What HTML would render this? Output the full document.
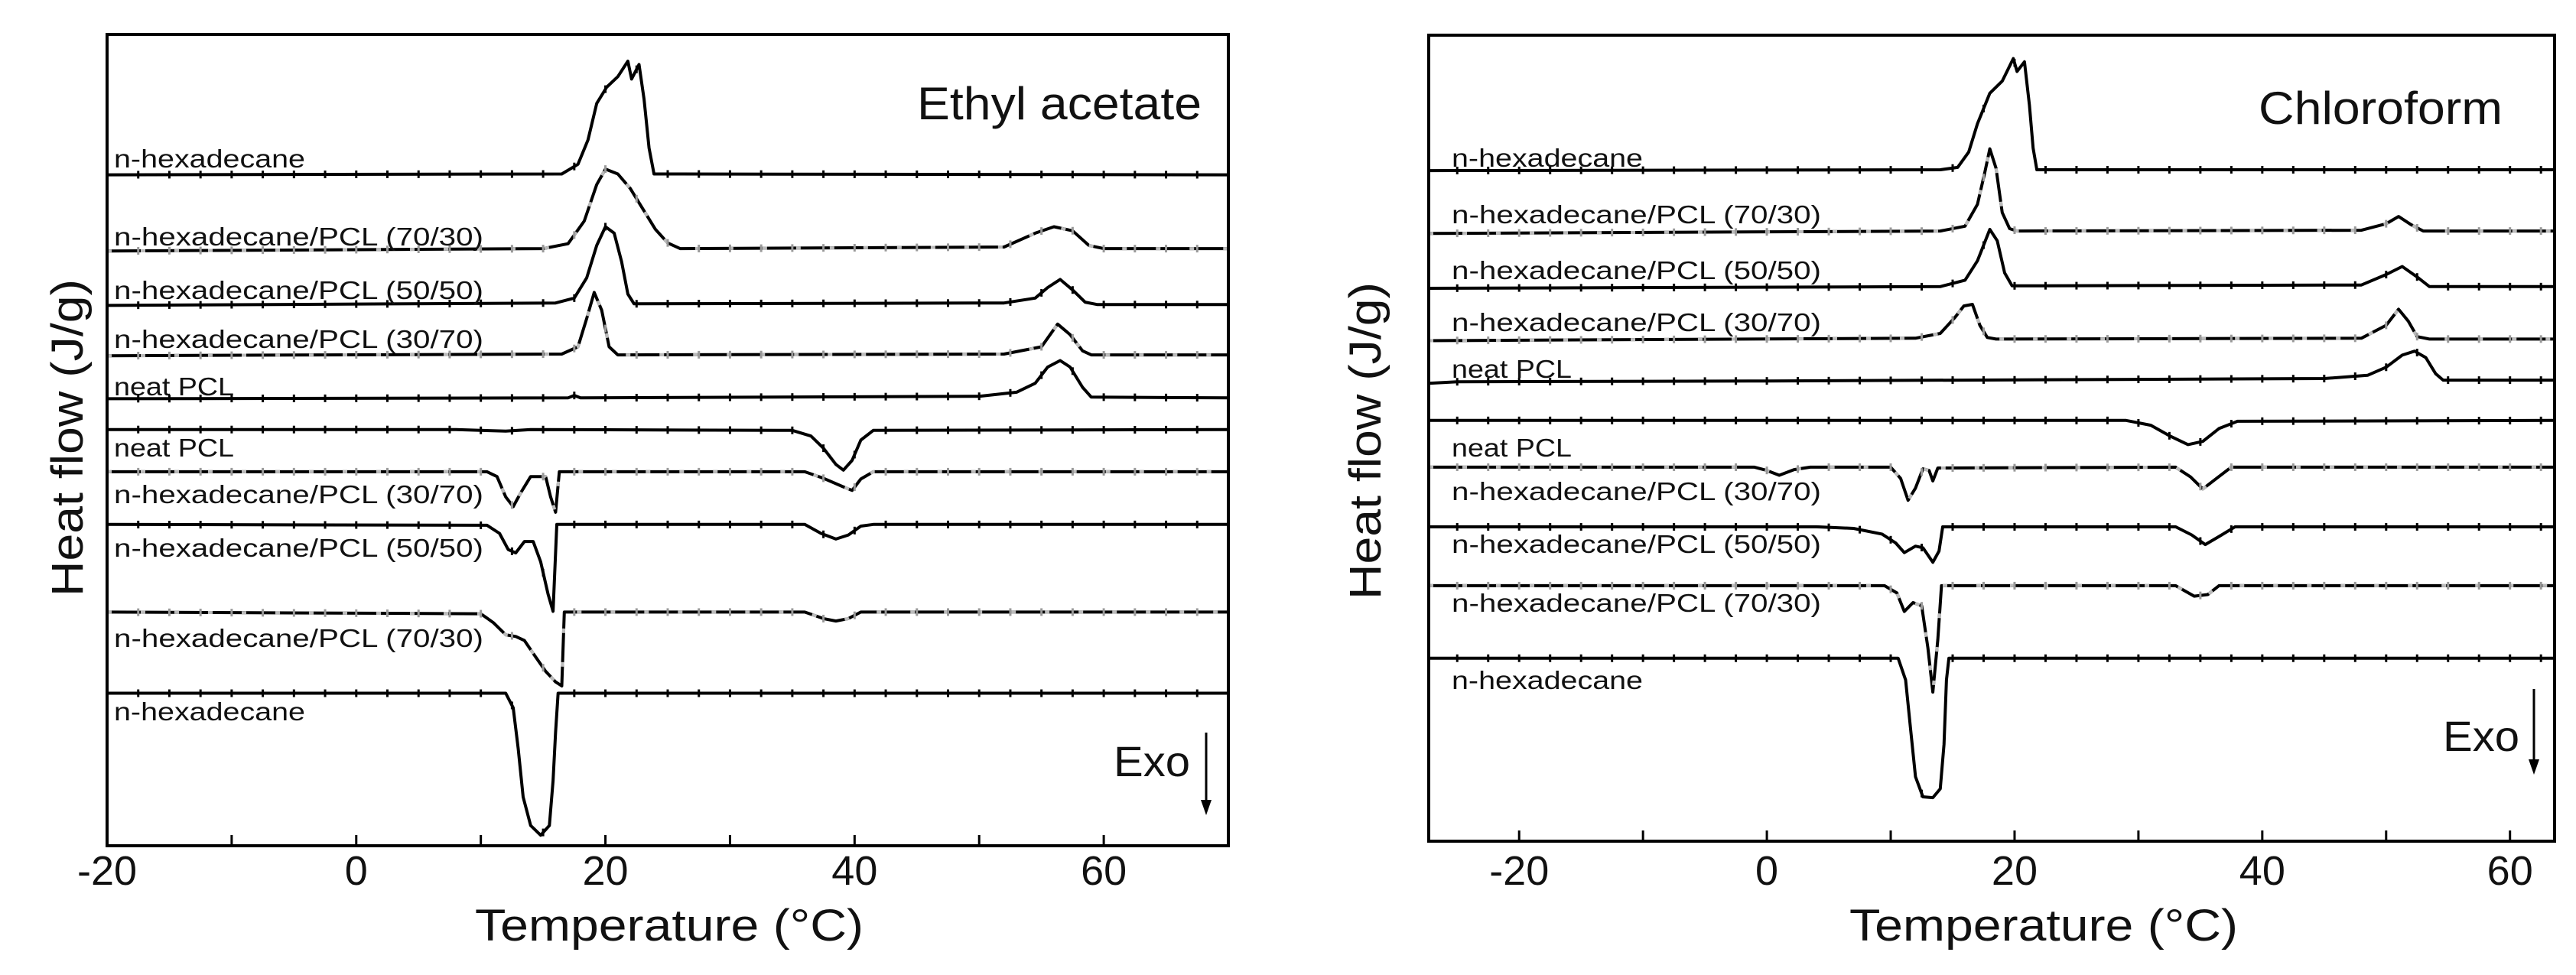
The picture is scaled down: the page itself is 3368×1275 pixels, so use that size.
<!DOCTYPE html>
<html><head><meta charset="utf-8"><style>
html,body{margin:0;padding:0;background:#fff}
svg{display:block}
text{font-family:"Liberation Sans","DejaVu Sans",sans-serif;fill:#111}
</style></head><body>
<svg id="fig" width="3368" height="1275" viewBox="0 0 3368 1275" xmlns="http://www.w3.org/2000/svg">
<g id="left"></g>
<g id="right"></g>
</svg>
<script>
const NS="http://www.w3.org/2000/svg";
// ---------- data: tick labels ----------
const tickValuesL=[-20,-10,0,10,20,30,40,50,60];
const tickLabelsL=["-20","0","20","40","60"];
const tickValuesR=[-20,-10,0,10,20,30,40,50,60];
const tickLabelsR=["-20","0","20","40","60"];
// ---------- Ethyl acetate curves [T, heat-flow offset units] ----------
const curveNamesL=["n-hexadecane","n-hexadecane/PCL (70/30)","n-hexadecane/PCL (50/50)","n-hexadecane/PCL (30/70)","neat PCL","neat PCL","n-hexadecane/PCL (30/70)","n-hexadecane/PCL (50/50)","n-hexadecane/PCL (70/30)","n-hexadecane"];
const dashedL=[false,true,false,true,false,false,true,false,true,false];
const L1=[[-20,82.7],[16.5,82.8],[17.8,84],[18.6,87],[19.3,91.5],[20.1,93.5],[21,94.8],[21.8,96.7],[22.1,94.5],[22.7,96.3],[23.1,92],[23.5,86],[23.9,82.8],[70,82.7]];
const L2=[[-20,73.3],[15,73.6],[17,74.2],[18.3,77],[19.3,81.5],[20,83.4],[21,82.8],[22,81],[23,78.5],[24,76],[25,74.3],[26,73.6],[52,73.8],[54.5,75.5],[56,76.3],[57.5,75.8],[58.8,74],[60,73.6],[70,73.6]];
const L3=[[-20,66.6],[16,66.9],[17.5,67.5],[18.5,70],[19.3,74],[20,76.3],[20.7,75.5],[21.3,72],[21.8,68],[22.3,66.8],[52,66.9],[54.5,67.5],[55.5,68.8],[56.5,69.8],[57.5,68.5],[58.5,67],[59.5,66.7],[70,66.7]];
const L4=[[-20,60.4],[16.5,60.6],[17.8,61.5],[18.5,65],[19.1,68.2],[19.7,66],[20.3,61.5],[21,60.5],[52,60.6],[55,61.5],[56.3,64.3],[57.3,63],[58.3,61],[59,60.5],[70,60.5]];
const L5=[[-20,55.1],[17,55.2],[17.5,55.5],[18,55.2],[50,55.4],[53,55.9],[54.5,57],[55.5,59],[56.5,59.8],[57.3,59],[58.3,56.5],[59,55.3],[70,55.2]];
const L6=[[-20,51.3],[8,51.3],[12,51.1],[14,51.3],[35,51.2],[36.5,50.5],[37.5,49],[38.5,47],[39.1,46.3],[39.8,47.5],[40.5,50],[41.5,51.2],[70,51.3]];
const L7=[[-20,46.1],[10.5,46.1],[11.3,45.5],[12,43],[12.6,41.8],[13.2,43.5],[14,45.5],[15.2,45.5],[15.6,43],[16,41.1],[16.3,46.1],[36,46.1],[37.5,45.3],[39,44.3],[39.8,43.8],[40.5,45.2],[41.5,46.1],[70,46.1]];
const L8=[[-20,39.6],[10.5,39.5],[11.5,38.5],[12.2,36.5],[12.8,36.1],[13.5,37.5],[14.2,37.5],[14.8,35],[15.4,31],[15.8,28.9],[16.1,39.6],[36,39.6],[37.3,38.5],[38.5,37.8],[39.5,38.3],[40.5,39.4],[41.5,39.6],[70,39.6]];
const L9=[[-20,28.8],[10,28.6],[11,27.5],[12,26],[12.8,25.8],[13.5,25.3],[14.3,23.5],[15.2,21.5],[16,20.2],[16.5,19.7],[16.7,28.8],[36,28.8],[37.5,28],[38.5,27.7],[39.5,28],[40.5,28.8],[70,28.8]];
const L10=[[-20,18.8],[12,18.8],[12.6,17],[13,12],[13.4,6],[14,2.5],[14.8,1.3],[15.5,2.5],[15.8,8],[16,14],[16.2,18.8],[70,18.8]];
// ---------- Chloroform curves ----------
const curveNamesR=curveNamesL;
const dashedR=[false,true,false,true,false,false,true,false,true,false];
const R1=[[-27.3,83.2],[14,83.3],[15.4,83.6],[16.3,85.5],[17,89],[18,92.8],[19,94.3],[19.9,97.1],[20.2,95.5],[20.8,96.7],[21.2,91.3],[21.5,86],[21.8,83.3],[63.6,83.3]];
const R2=[[-27.3,75.4],[14,75.7],[16,76.3],[17,79],[17.6,83],[18,85.9],[18.5,83.5],[19,78],[19.6,76],[20.2,75.7],[48,75.8],[50,76.6],[51,77.5],[52,76.5],[53,75.7],[63.6,75.7]];
const R3=[[-27.3,68.6],[14,68.8],[16,69.6],[17,72],[18,75.9],[18.6,74.5],[19.2,70.5],[19.8,68.9],[48,69],[50,70.3],[51.3,71.3],[52.5,70],[53.5,68.8],[63.6,68.8]];
const R4=[[-27.3,62.1],[12,62.4],[14,63],[15.2,65],[15.9,66.4],[16.6,66.6],[17.2,64],[17.8,62.5],[18.5,62.3],[48,62.4],[50,64],[51,66],[51.8,64.5],[52.5,62.6],[53.5,62.3],[63.6,62.3]];
const R5=[[-27.3,56.8],[-25,57],[0,57.1],[45,57.4],[48.5,57.8],[50,58.8],[51.3,60.3],[52.3,60.8],[53.2,60],[54,58],[54.6,57.2],[63.6,57.2]];
const R6=[[-27.3,52.2],[29,52.2],[31,51.6],[32.5,50.3],[34,49.2],[35.2,49.6],[36.5,51.2],[38,52.1],[63.6,52.2]];
const R7=[[-27.3,46.4],[-1,46.4],[0,46],[1,45.4],[2.2,46.1],[3.5,46.4],[10,46.4],[10.8,45],[11.4,42.3],[12,43.8],[12.6,46.2],[13.1,46],[13.4,44.7],[13.8,46.3],[33,46.4],[34.2,45.2],[35.2,43.7],[36.3,45],[37.5,46.4],[63.6,46.4]];
const R8=[[-27.3,39],[4,39],[7,38.8],[9.3,38.1],[10.4,37],[11.1,35.8],[12,36.6],[12.6,36.4],[13.4,34.6],[13.9,36],[14.2,39],[33,39],[34.3,38],[35.4,36.8],[36.5,37.8],[37.8,39],[63.6,39]];
const R9=[[-27.3,31.7],[9.5,31.7],[10.5,30.8],[11.1,28.5],[11.8,29.6],[12.5,29.2],[13,24],[13.4,18.5],[13.8,25],[14.1,31.7],[33,31.7],[34.5,30.4],[35.6,30.6],[36.5,31.7],[63.6,31.7]];
const R10=[[-27.3,22.7],[10.6,22.7],[11.2,20],[11.6,14],[12,8],[12.6,5.5],[13.4,5.4],[14,6.5],[14.3,12],[14.5,20],[14.7,22.7],[63.6,22.7]];

const seriesL=[L1,L2,L3,L4,L5,L6,L7,L8,L9,L10];
const seriesR=[R1,R2,R3,R4,R5,R6,R7,R8,R9,R10];

function mk(parent,tag,attrs){const e=document.createElementNS(NS,tag);for(const k in attrs)e.setAttribute(k,attrs[k]);parent.appendChild(e);return e;}

function drawPanel(g,cfg){
  const xs=t=>cfg.x0+(t-cfg.dom[0])/(cfg.dom[1]-cfg.dom[0])*(cfg.x1-cfg.x0);
  const ys=v=>cfg.y1-v/100*(cfg.y1-cfg.y0);
  cfg.series.forEach((pts,i)=>{
    const d=pts.map((p,j)=>(j?"L":"M")+xs(p[0]).toFixed(1)+","+ys(p[1]).toFixed(1)).join("");
    const p=mk(g,"path",{d:d,fill:"none",stroke:"#000","stroke-width":4,"stroke-linejoin":"round"});
    
    
    if(cfg.dashed[i]){
      const p2=mk(g,"path",{d:d,fill:"none",stroke:"#bbb","stroke-width":4,"stroke-dasharray":"6 38"});
      
      
    }
    for(let t=Math.ceil(cfg.dom[0]/2.5)*2.5;t<=cfg.dom[1];t+=2.5){
      let v=null;
      for(let j=0;j<pts.length-1;j++){if(t>=pts[j][0]&&t<=pts[j+1][0]){const f=(t-pts[j][0])/((pts[j+1][0]-pts[j][0])||1);v=pts[j][1]+f*(pts[j+1][1]-pts[j][1]);break;}}
      if(v===null)continue;
      const m=mk(g,"line",{x1:xs(t),x2:xs(t),y1:ys(v)-5,y2:ys(v)+5,stroke:cfg.dashed[i]?"#999":"#000","stroke-width":3});
      
      
    }
    const lb=mk(g,"text",{x:cfg.labelX,y:cfg.labelY[i],"font-size":33,textLength:cfg.names[i].length>12?483:(cfg.names[i]==="neat PCL"?157:250),lengthAdjust:"spacingAndGlyphs"});
    lb.textContent=cfg.names[i];
    
    
  });
  const fr=mk(g,"rect",{x:cfg.x0,y:cfg.y0,width:cfg.x1-cfg.x0,height:cfg.y1-cfg.y0,fill:"none",stroke:"#000","stroke-width":4});
  
  
  cfg.ticks.forEach(t=>{
    const tk=mk(g,"line",{x1:xs(t),x2:xs(t),y1:cfg.y1,y2:cfg.y1-14,stroke:"#000","stroke-width":3});
    
    
  });
  cfg.tickLabels.forEach(s=>{
    const tl=mk(g,"text",{x:xs(+s),y:1157,"font-size":54,"text-anchor":"middle"});
    tl.textContent=s;
    
    
  });
  const xt=mk(g,"text",{x:cfg.xtX,y:1230,"font-size":58,textLength:508,lengthAdjust:"spacingAndGlyphs"});
  xt.textContent="Temperature (°C)";
  
  
  const yt=mk(g,"text",{x:0,y:0,"font-size":58,textLength:415,lengthAdjust:"spacingAndGlyphs",transform:`translate(${cfg.ytX},${cfg.ytY}) rotate(-90)`});
  yt.textContent="Heat flow (J/g)";
  
  
  const st=mk(g,"text",{x:cfg.solvX,y:cfg.solvY,"font-size":60,textLength:cfg.solvW,lengthAdjust:"spacingAndGlyphs"});
  st.textContent=cfg.solvent;
  
  
  const ex=mk(g,"text",{x:cfg.exoX,y:cfg.exoY,"font-size":56,textLength:100,lengthAdjust:"spacingAndGlyphs"});
  ex.textContent="Exo";
  
  
  const ar=mk(g,"line",{x1:cfg.arX,x2:cfg.arX,y1:cfg.arY0,y2:cfg.arY1-14,stroke:"#000","stroke-width":3});
  
  
  const ah=mk(g,"path",{d:`M${cfg.arX-7},${cfg.arY1-20}L${cfg.arX+7},${cfg.arY1-20}L${cfg.arX},${cfg.arY1}Z`,fill:"#000"});
  
  
}

drawPanel(document.getElementById('left'),{x0:140,x1:1606,y0:45,y1:1106,dom:[-20,70],series:seriesL,dashed:dashedL,names:curveNamesL,
  labelX:149,labelY:[219,321,391,455,517,597,658,728,846,942],ticks:tickValuesL,tickLabels:tickLabelsL,
  xtX:621,ytX:108,ytY:780,solvent:"Ethyl acetate",solvX:1199,solvY:156,solvW:372,exoX:1456,exoY:1015,arX:1577,arY0:958,arY1:1066});
drawPanel(document.getElementById('right'),{x0:1868,x1:3340,y0:46,y1:1100,dom:[-27.3,63.6],series:seriesR,dashed:dashedR,names:curveNamesR,
  labelX:1898,labelY:[218,292,365,433,494,597,654,723,800,901],ticks:tickValuesR,tickLabels:tickLabelsR,
  xtX:2418,ytX:1805,ytY:784,solvent:"Chloroform",solvX:2953,solvY:162,solvW:319,exoX:3194,exoY:982,arX:3313,arY0:901,arY1:1013});
</script>
</body></html>
